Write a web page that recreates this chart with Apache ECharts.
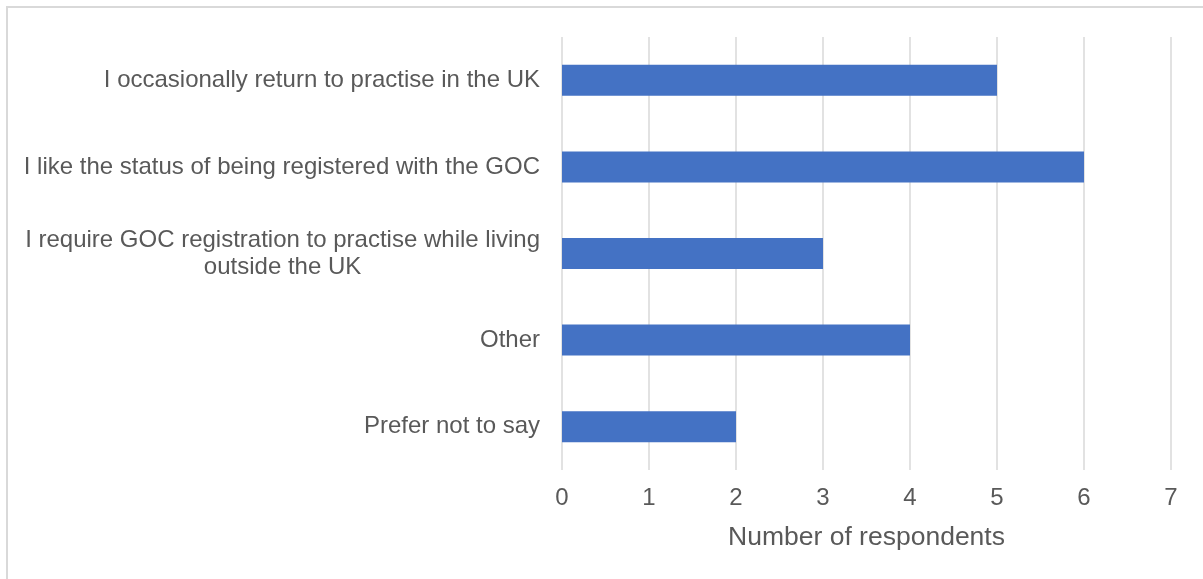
<!DOCTYPE html>
<html>
<head>
<meta charset="utf-8">
<script src="https://cdn.jsdelivr.net/npm/echarts@6/dist/echarts.min.js"></script>
<style>
  html, body { margin: 0; padding: 0; background: #ffffff; overflow: hidden; }
  #frame { position: absolute; left: 6px; top: 6px; width: 1210px; height: 590px;
           border: 2px solid #d9d9d9; box-sizing: border-box; }
  #chart { position: absolute; left: 0; top: 0; width: 1203px; height: 579px; }
</style>
</head>
<body>
<div id="frame"></div>
<div id="chart"></div>
<script>
// Reasons given for keeping registration (top to bottom)
const categories = [
  'I occasionally return to practise in the UK',
  'I like the status of being registered with the GOC',
  'I require GOC registration to practise while living\noutside the UK',
  'Other',
  'Prefer not to say'
];
const respondents = [5, 6, 3, 4, 2];
const xTicks = [0, 1, 2, 3, 4, 5, 6, 7];
const axisTitle = 'Number of respondents';

const textColor = '#595959';
const font = 'Arial, "Liberation Sans", sans-serif';

const chart = echarts.init(document.getElementById('chart'), null, { renderer: 'canvas' });
chart.setOption({
  animation: false,
  backgroundColor: 'transparent',
  grid: { left: 562, right: 32, top: 37, bottom: 109, containLabel: false },
  xAxis: {
    type: 'value',
    min: xTicks[0],
    max: xTicks[xTicks.length - 1],
    interval: 1,
    name: axisTitle,
    nameLocation: 'middle',
    nameGap: 54,
    nameTextStyle: { color: textColor, fontSize: 26.5, fontFamily: font },
    axisLine: { show: false },
    axisTick: { show: false },
    axisLabel: { color: textColor, fontSize: 24, fontFamily: font, margin: 16 },
    splitLine: { show: true, lineStyle: { color: '#d9d9d9', width: 1.5 } }
  },
  yAxis: {
    type: 'category',
    inverse: true,
    data: categories,
    axisLine: { show: false },
    axisTick: { show: false },
    splitLine: { show: false },
    axisLabel: {
      margin: 22,
      formatter: function (v) {
        return v.split('\n').map(function (l) { return '{c|' + l + '}'; }).join('\n');
      },
      rich: {
        c: { color: textColor, fontSize: 24, fontFamily: font, align: 'center', lineHeight: 27 }
      }
    }
  },
  series: [{
    type: 'bar',
    data: respondents,
    barWidth: 31,
    itemStyle: { color: '#4472C4' }
  }]
});
</script>
</body>
</html>
